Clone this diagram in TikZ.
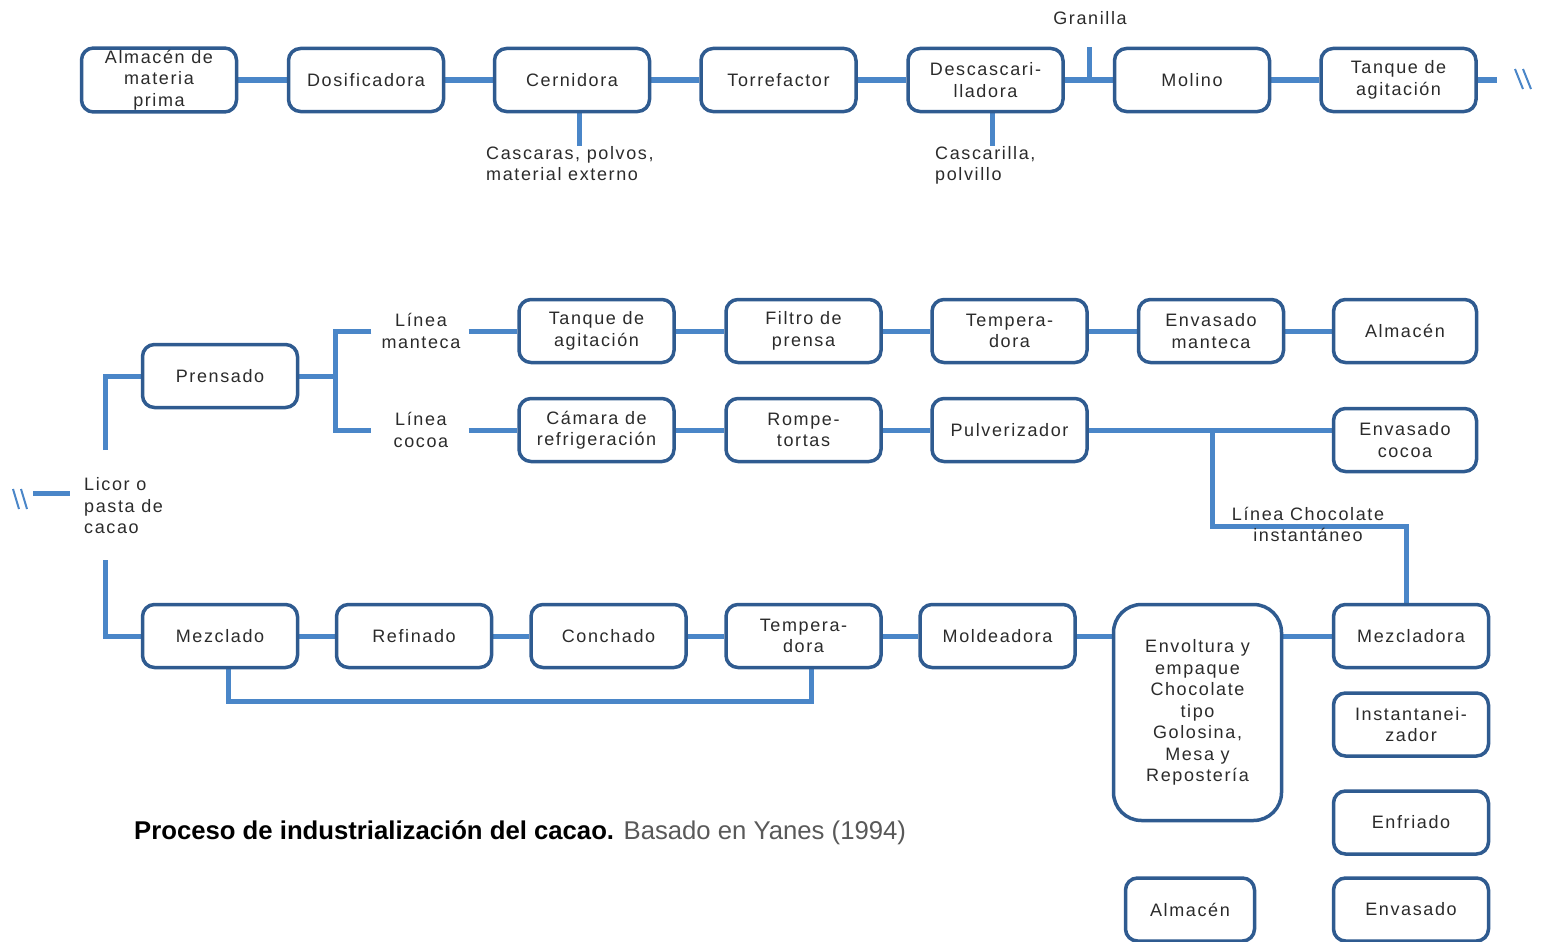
\documentclass[tikz,border=0pt]{standalone}
\usepackage{fontspec}
\setmainfont{Liberation Sans}
\newfontfamily\etfont[LetterSpace=9]{Liberation Sans}
\usepackage{tikz}
\usetikzlibrary{backgrounds}
\definecolor{linea}{HTML}{4A86C8}
\definecolor{borde}{HTML}{2F5B90}
\definecolor{texto}{HTML}{2B2B2B}
\tikzset{
  etapa/.style={draw=borde, line width=3.5pt, rounded corners=12pt, fill=white,
    minimum width=155pt, minimum height=63pt, align=center, inner sep=2pt,
    text=texto, font=\etfont\fontsize{18}{21.5}\selectfont},
  nota/.style={align=left, inner sep=0pt, text=texto, font=\etfont\fontsize{18}{21.5}\selectfont},
  flujo/.style={draw=linea, line width=5pt},
  corte/.style={draw=linea, line width=2pt}
}

\begin{document}
\begin{tikzpicture}[x=1pt, y=-1pt]
  \useasboundingbox (0,0) rectangle (1542,942);
  % Recepcion y tostado
  \node[etapa] (alm) at (159,80) {Almacén de\\materia\\prima};
  \node[etapa] (dos) at (366,80) {Dosificadora};
  \node[etapa] (cer) at (572,80) {Cernidora};
  \node[etapa] (tor) at (778.5,80) {Torrefactor};
  \node[etapa] (des) at (985.5,80) {Descascari-\\lladora};
  \node[etapa] (mol) at (1192,80) {Molino};
  \node[etapa] (tq1) at (1398.5,80) {Tanque de\\agitación};
  \node[nota, anchor=north west] (cas) at (486,146) {Cascaras, polvos,\\material externo};
  \node[nota, anchor=north west] (csc) at (935,146) {Cascarilla,\\polvillo};
  \node[nota] (gra) at (1090,18) {Granilla};
  \coordinate (gr) at (1089,80);
  \coordinate (cut1) at (1497,80);
  % Linea manteca y cocoa
  \node[etapa] (pre) at (220,376) {Prensado};
  \node[nota, align=center] (lman) at (421,331) {Línea\\manteca};
  \node[nota, align=center] (lcoc) at (421,430) {Línea\\cocoa};
  \coordinate (split) at (335,376);
  \coordinate (ramW) at ([xshift=-10pt]lman.west);
  \coordinate (ramE) at ([xshift=8pt]lman.east);
  \node[etapa] (tq2) at (596.5,331) {Tanque de\\agitación};
  \node[etapa] (fil) at (803.5,331) {Filtro de\\prensa};
  \node[etapa] (tmp1) at (1009.5,331) {Tempera-\\dora};
  \node[etapa, minimum width=145pt] (envm) at (1211,331) {Envasado\\manteca};
  \node[etapa, minimum width=143pt] (alm2) at (1405,331) {Almacén};
  \node[etapa] (cam) at (596.5,430) {Cámara de\\refrigeración};
  \node[etapa] (rom) at (803.5,430) {Rompe-\\tortas};
  \node[etapa] (pul) at (1009.5,430) {Pulverizador};
  \node[etapa, minimum width=143pt] (envc) at (1405,440) {Envasado\\cocoa};
  \coordinate (jch) at (1212,430);
  \coordinate (jch2) at (1212,526);
  % Licor
  \node[nota, anchor=west] (lic) at (84,506) {Licor o\\pasta de\\cacao};
  \coordinate (lictop) at (105,450);
  \coordinate (licbot) at (105,560);
  \coordinate (cut2) at (33,493);
  \coordinate (cut2b) at (70,493);
  % Linea chocolate
  \node[etapa] (mez) at (220,636) {Mezclado};
  \node[etapa] (ref) at (414,636) {Refinado};
  \node[etapa] (con) at (608.5,636) {Conchado};
  \node[etapa] (tmp2) at (803.5,636) {Tempera-\\dora};
  \node[etapa] (mol2) at (997.5,636) {Moldeadora};
  \node[etapa, minimum width=168pt, minimum height=216pt, rounded corners=28pt] (envo) at (1197.5,712.5)
    {Envoltura y\\empaque\\Chocolate\\tipo\\Golosina,\\Mesa y\\Repostería};
  \node[etapa] (mzd) at (1411,636) {Mezcladora};
  \node[etapa] (ins) at (1411,724.5) {Instantanei-\\zador};
  \node[etapa] (enf) at (1411,822.5) {Enfriado};
  \node[etapa] (envs) at (1411,909.5) {Envasado};
  \node[etapa, minimum width=129pt] (alm3) at (1190,909.5) {Almacén};
  \node[nota, align=center, font=\etfont\fontsize{18}{21}\selectfont] (lcho) at (1308,524) {Línea Chocolate\\instantáneo};
  % Titulo
  \node[anchor=west, inner sep=0pt, font=\fontsize{25.7}{30}\selectfont, text=black] (tit) at (134,833)
    {\textbf{Proceso de industrialización del cacao.} \textcolor{black!65}{Basado en Yanes (1994)}};
  % Conectores
  \begin{scope}[on background layer]
    \draw[flujo] (alm) -- (dos);
    \draw[flujo] (dos) -- (cer);
    \draw[flujo] (cer) -- (tor);
    \draw[flujo] (tor) -- (des);
    \draw[flujo] (des) -- (mol);
    \draw[flujo] (mol) -- (tq1);
    \draw[flujo] (tq1) -- (cut1);
    \draw[flujo] (gr) -- (gr |- des.north);
    \draw[flujo] ([xshift=7pt]cer.south) -- ([xshift=7pt]cer.south |- cas.north);
    \draw[flujo] ([xshift=7pt]des.south) -- ([xshift=7pt]des.south |- csc.north);
    \draw[flujo] (pre) -- (split);
    \draw[flujo] (ramW) -| (split) |- (ramW |- lcoc);
    \draw[flujo] (ramE) -- (tq2);
    \draw[flujo] (ramE |- lcoc) -- (cam);
    \draw[flujo] (tq2) -- (fil);
    \draw[flujo] (fil) -- (tmp1);
    \draw[flujo] (tmp1) -- (envm);
    \draw[flujo] (envm) -- (alm2);
    \draw[flujo] (cam) -- (rom);
    \draw[flujo] (rom) -- (pul);
    \draw[flujo] (pul.east) -- (pul.east -| envc.west);
    \draw[flujo] (jch) -- (jch2) -| ([xshift=-5pt]mzd.north);
    \draw[flujo] (lictop) |- (pre.west);
    \draw[flujo] (licbot) |- (mez.west);
    \draw[flujo] (cut2) -- (cut2b);
    \draw[flujo] (mez) -- (ref);
    \draw[flujo] (ref) -- (con);
    \draw[flujo] (con) -- (tmp2);
    \draw[flujo] (tmp2) -- (mol2);
    \draw[flujo] (mol2.east) -- (mol2.east -| envo.west);
    \draw[flujo] (mzd.west) -- (mzd.west -| envo.east);
    \draw[flujo] ([xshift=8pt]mez.south) -- ++(0,32) -| ([xshift=8pt]tmp2.south);
  \end{scope}
  % Cortes
  \draw[corte] ([xshift=18pt,yshift=11pt]cut1) -- ([xshift=26pt,yshift=-9pt]cut1);
  \draw[corte] ([xshift=26pt,yshift=11pt]cut1) -- ([xshift=34pt,yshift=-9pt]cut1);
  \draw[corte] ([xshift=-20pt,yshift=4pt]cut2) -- ([xshift=-14pt,yshift=-16pt]cut2);
  \draw[corte] ([xshift=-12pt,yshift=4pt]cut2) -- ([xshift=-6pt,yshift=-16pt]cut2);
\end{tikzpicture}
\end{document}
